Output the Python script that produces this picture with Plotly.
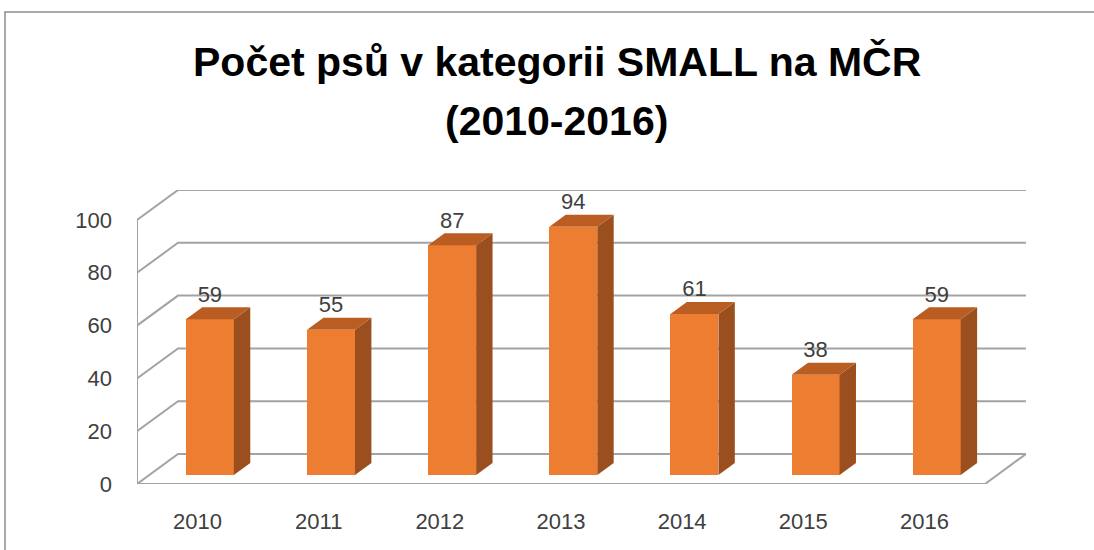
import plotly.graph_objects as go

# ---- data ----
years = ["2010", "2011", "2012", "2013", "2014", "2015", "2016"]
counts = [59, 55, 87, 94, 61, 38, 59]
y_ticks = [0, 20, 40, 60, 80, 100]
title_line1 = "Počet psů v kategorii SMALL na MČR"
title_line2 = "(2010-2016)"

# ---- pseudo-3D geometry (in axis units) ----
W, H = 1094, 550
ML, MR, MT, MB = 137, 68, 190, 66
DX, DY = 0.3386, 11.36          # depth of the floor / side wall
BAR_W = 0.396
F0, F1 = 0.3, 0.7               # bar front / back depth fractions
n = len(years)
xs = list(range(n))

FRONT = "#ED7D31"
SIDE = "#9B4F1F"
TOP = "#BA5D22"
GRID = "#A3A3A3"
TXT = "#404040"
FONT = "Liberation Sans"

fig = go.Figure()

# front faces (real bars)
fig.add_trace(go.Bar(
    x=[x + F0 * DX for x in xs], y=counts, base=F0 * DY, width=BAR_W,
    marker=dict(color=FRONT, line=dict(width=0)), showlegend=False,
    hoverinfo="skip"))

# side and top faces
dd_x, dd_y = (F1 - F0) * DX, (F1 - F0) * DY
for x, v in zip(xs, counts):
    xl = x + F0 * DX - BAR_W / 2
    xr = x + F0 * DX + BAR_W / 2
    b = F0 * DY
    fig.add_trace(go.Scatter(
        x=[xr, xr + dd_x, xr + dd_x, xr, xr],
        y=[b, b + dd_y, b + v + dd_y, b + v, b],
        fill="toself", fillcolor=SIDE, mode="lines", line=dict(width=0),
        showlegend=False, hoverinfo="skip"))
    fig.add_trace(go.Scatter(
        x=[xl, xr, xr + dd_x, xl + dd_x, xl],
        y=[b + v, b + v, b + v + dd_y, b + v + dd_y, b + v],
        fill="toself", fillcolor=TOP, mode="lines", line=dict(width=0),
        showlegend=False, hoverinfo="skip"))

# data labels
fig.add_trace(go.Scatter(
    x=[x + F0 * DX for x in xs],
    y=[v + F1 * DY for v in counts],
    text=[str(v) for v in counts], mode="text", textposition="top center",
    textfont=dict(family=FONT, size=22, color=TXT),
    showlegend=False, hoverinfo="skip"))

# walls / gridlines
shapes = []
x_left, x_right = -0.5, n - 0.5
for t in y_ticks:
    shapes.append(dict(
        type="path", xref="x", yref="y", layer="below",
        path=f"M {x_left},{t} L {x_left + DX},{t + DY} L {x_right + DX},{t + DY}",
        line=dict(color=GRID, width=2)))
shapes.append(dict(type="line", xref="x", yref="y", layer="below",
                   x0=x_left, y0=0, x1=x_left, y1=y_ticks[-1],
                   line=dict(color=GRID, width=2)))
shapes.append(dict(type="path", xref="x", yref="y", layer="below",
                   path=f"M {x_left},0 L {x_right},0 L {x_right + DX},{DY}",
                   line=dict(color=GRID, width=2)))

# outer chart border (top and left visible)
pw, ph = W - ML - MR, H - MT - MB
def px_to_paper_x(px):
    return (px - ML) / pw
def px_to_paper_y(py):
    return (H - MB - py) / ph
shapes.append(dict(type="path", xref="paper", yref="paper", layer="below",
                   path=f"M {px_to_paper_x(5)},{px_to_paper_y(560)} L {px_to_paper_x(5)},{px_to_paper_y(12)} L {px_to_paper_x(1100)},{px_to_paper_y(12)}",
                   line=dict(color="#8C8C8C", width=1.5)))

annotations = [
    dict(text=f"<b>{title_line1}</b>", xref="paper", yref="paper",
         x=px_to_paper_x(557), y=px_to_paper_y(62), showarrow=False,
         xanchor="center", yanchor="middle",
         font=dict(family=FONT, size=41, color="#000000")),
    dict(text=f"<b>{title_line2}</b>", xref="paper", yref="paper",
         x=px_to_paper_x(556), y=px_to_paper_y(121), showarrow=False,
         xanchor="center", yanchor="middle",
         font=dict(family=FONT, size=41, color="#000000")),
]

fig.update_layout(
    width=W, height=H,
    margin=dict(l=ML, r=MR, t=MT, b=MB, pad=0),
    paper_bgcolor="white", plot_bgcolor="white",
    shapes=shapes, annotations=annotations,
    bargap=0,
    xaxis=dict(range=[x_left, x_right + DX], tickvals=xs, ticktext=years,
               showgrid=False, zeroline=False, showline=False, ticks="",
               ticklabelstandoff=22,
               tickfont=dict(family=FONT, size=22, color=TXT), fixedrange=True),
    yaxis=dict(range=[0, y_ticks[-1] + DY], tickvals=y_ticks,
               ticktext=[str(t) for t in y_ticks],
               showgrid=False, zeroline=False, showline=False, ticks="",
               ticklabelstandoff=24,
               tickfont=dict(family=FONT, size=22, color=TXT), fixedrange=True),
)

fig.write_html(
    "out.html",
    config={"displayModeBar": False},
    post_script="document.body.style.margin='0';document.body.style.overflow='hidden';",
)
